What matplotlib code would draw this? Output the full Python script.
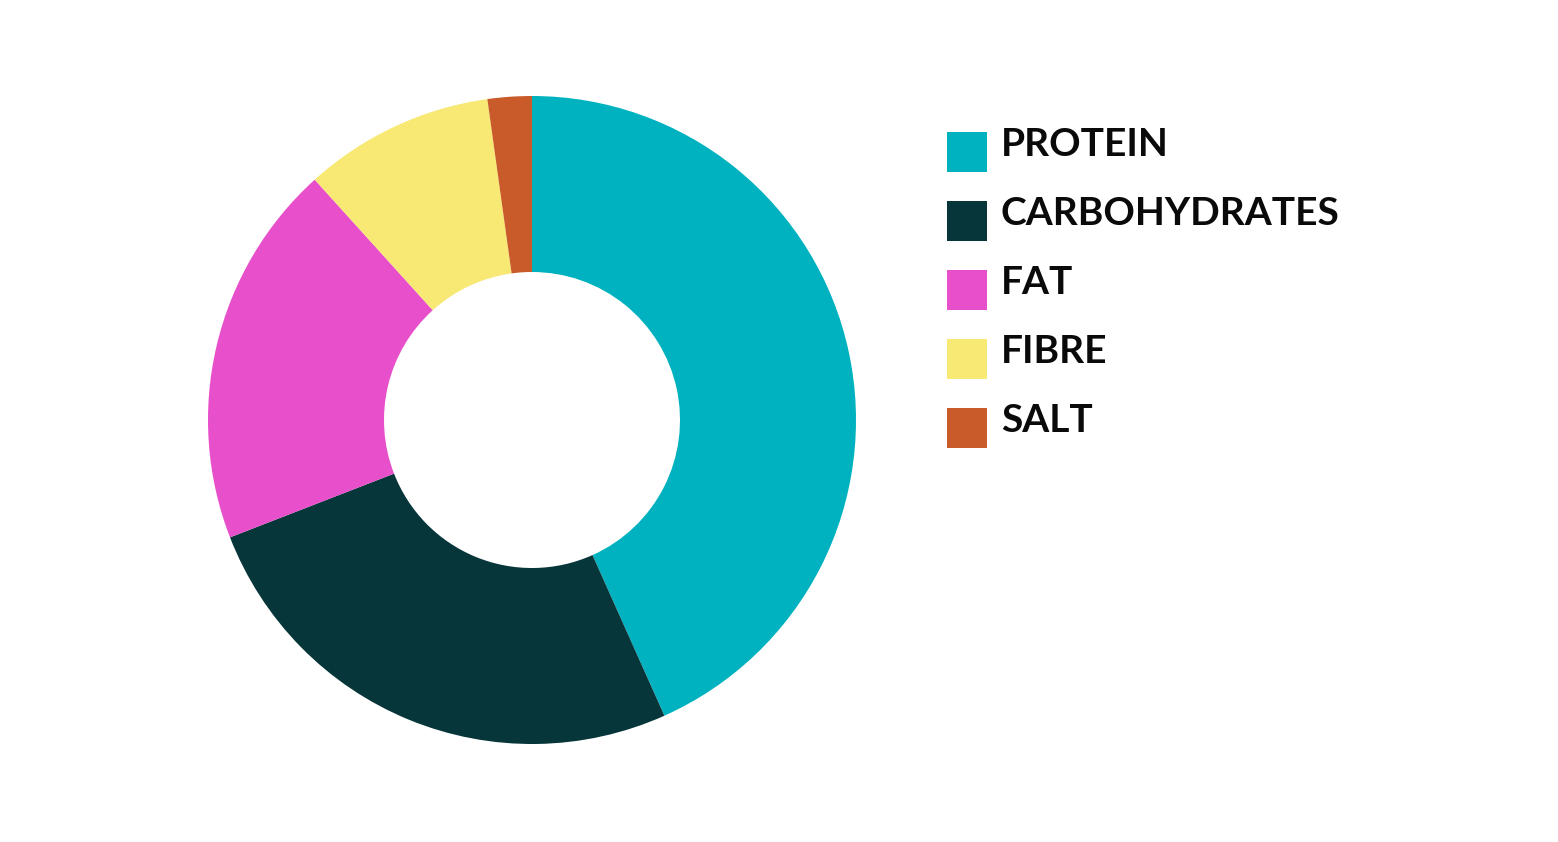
import matplotlib
matplotlib.use("Agg")
import matplotlib.pyplot as plt
from matplotlib.patches import Rectangle

categories = ["PROTEIN", "CARBOHYDRATES", "FAT", "FIBRE", "SALT"]
values = [43.3, 25.8, 19.2, 9.5, 2.2]
colors = ["#00B2BF", "#06353A", "#E84FCB", "#F8E874", "#C95A2A"]

W, H = 1558, 842
fig = plt.figure(figsize=(W / 100, H / 100), dpi=100)
fig.patch.set_facecolor("white")

cx, cy, r = 532, 420, 324
ax = fig.add_axes([(cx - r) / W, (H - cy - r) / H, 2 * r / W, 2 * r / H])
ax.pie(values, colors=colors, startangle=90, counterclock=False, radius=1,
       wedgeprops=dict(width=1 - 148 / 324, linewidth=0))
ax.set_xlim(-1, 1)
ax.set_ylim(-1, 1)
ax.set_aspect("equal")
ax.axis("off")

sq_x, sq_top0, sq = 947, 132, 40
step = 69
for i, (lab, col) in enumerate(zip(categories, colors)):
    top = sq_top0 + i * step
    fig.patches.append(Rectangle((sq_x / W, (H - top - sq) / H), sq / W, sq / H,
                                 transform=fig.transFigure, facecolor=col,
                                 edgecolor="none"))
    fig.text(1001 / W, (H - (top + 24)) / H, lab, fontsize=28, fontweight="bold",
             family="Lato", color="#0a0a0a", va="baseline", ha="left")

fig.savefig("out.png", dpi=100, facecolor="white")
